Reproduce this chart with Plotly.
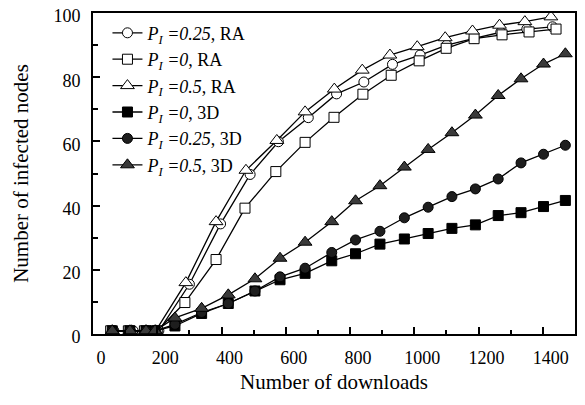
import plotly.graph_objects as go

# ---- data ----
x_ra_c = [65, 125, 170, 205, 300, 397, 489, 577, 670, 758, 843, 932, 1018, 1101, 1186, 1269, 1350, 1430]
y_ra_c = [1, 1, 1, 1, 15.5, 34.3, 49.7, 59.9, 67.4, 74.8, 78.5, 84.0, 86.9, 90.0, 92.1, 94.0, 95.0, 95.7]

x_ra_s = [55, 110, 160, 200, 286, 383, 473, 569, 660, 750, 840, 928, 1015, 1099, 1186, 1273, 1357, 1441]
y_ra_s = [1, 1, 1, 1, 9.8, 23.2, 39.2, 50.6, 59.7, 67.5, 74.7, 80.6, 85.1, 89.0, 92.0, 93.2, 94.1, 95.0]

x_ra_t = [60, 120, 165, 195, 289, 383, 476, 572, 660, 751, 838, 924, 1009, 1096, 1181, 1265, 1344, 1425]
y_ra_t = [1, 1, 1, 1, 16.0, 35.0, 51.0, 60.3, 69.2, 76.3, 82.2, 86.9, 89.5, 92.3, 94.4, 96.2, 97.3, 98.8]

x_3d = [60, 115, 165, 193, 255, 338, 421, 504, 582, 660, 743, 817, 893, 969, 1043, 1117, 1190, 1261, 1332, 1402, 1470]
y_3d_s = [1, 1, 1, 1, 2.5, 6.4, 9.5, 13.4, 16.9, 18.9, 22.8, 25.0, 28.0, 29.6, 31.3, 32.9, 34.0, 36.9, 37.8, 39.7, 41.6]
y_3d_c = [1, 1, 1, 1, 3.0, 6.7, 9.5, 13.4, 17.8, 20.5, 25.4, 29.3, 32.0, 36.2, 39.5, 42.8, 45.2, 48.3, 53.3, 56.0, 58.8]
y_3d_t = [1, 1, 1, 1, 5.0, 8.0, 12.2, 17.2, 23.6, 28.6, 35.0, 41.5, 46.2, 52.0, 57.5, 62.7, 68.2, 74.3, 79.5, 84.1, 87.3]

x_ticks = [0, 200, 400, 600, 800, 1000, 1200, 1400]
y_ticks = [0, 20, 40, 60, 80, 100]

names = [
    "<i>P</i><sub><i>I</i></sub><i> =0.25</i>, RA",
    "<i>P</i><sub><i>I</i></sub><i> =0</i>, RA",
    "<i>P</i><sub><i>I</i></sub><i> =0.5</i>, RA",
    "<i>P</i><sub><i>I</i></sub><i> =0</i>, 3D",
    "<i>P</i><sub><i>I</i></sub><i> =0.25</i>, 3D",
    "<i>P</i><sub><i>I</i></sub><i> =0.5</i>, 3D",
]

FONT = "Liberation Serif, Times New Roman, serif"

fig = go.Figure()

def add(x, y, name, symbol, fill, size):
    fig.add_trace(go.Scatter(
        x=x, y=y, name=name, mode="lines+markers",
        line=dict(color="black", width=1.3),
        marker=dict(symbol=symbol, size=size, color=fill,
                    line=dict(color="black", width=1)),
    ))

add(x_ra_c, y_ra_c, names[0], "circle", "white", 10)
add(x_ra_s, y_ra_s, names[1], "square", "white", 10)
add(x_ra_t, y_ra_t, names[2], "triangle-up", "white", 12)
add(x_3d, y_3d_s, names[3], "square", "black", 10)
add(x_3d, y_3d_c, names[4], "circle", "#1e1e1e", 10)
add(x_3d, y_3d_t, names[5], "triangle-up", "#3a3a3a", 12)

fig.update_layout(
    width=577, height=397,
    margin=dict(l=85, r=10, t=5, b=71),
    paper_bgcolor="white", plot_bgcolor="white",
    font=dict(family=FONT, color="black", size=18),
    showlegend=True,
    legend=dict(x=0.03, y=0.995, xanchor="left", yanchor="top",
                bgcolor="rgba(0,0,0,0)", font=dict(size=18, family=FONT),
                tracegroupgap=0, itemwidth=30),
    xaxis=dict(
        range=[0, 1500], tickvals=x_ticks, ticktext=[str(v) for v in x_ticks],
        ticks="inside", ticklen=7, tickwidth=2, tickcolor="black",
        minor=dict(dtick=100, tick0=0, ticks="inside", ticklen=4, tickwidth=2, tickcolor="black"),
        showline=True, linewidth=2, linecolor="black", mirror=True,
        showgrid=False, zeroline=False, automargin=False,
        ticklabelshift=8, ticklabelstandoff=6, ticklabeloverflow="allow",
        title=dict(text="Number of downloads", font=dict(size=21, family=FONT), standoff=8),
        tickfont=dict(size=18, family=FONT),
    ),
    yaxis=dict(
        range=[0, 100], tickvals=y_ticks,
        ticks="inside", ticklen=7, tickwidth=2, tickcolor="black",
        minor=dict(dtick=10, tick0=0, ticks="inside", ticklen=5, tickwidth=2, tickcolor="black"),
        showline=True, linewidth=2, linecolor="black", mirror=True,
        showgrid=False, zeroline=False, automargin=False,
        ticklabelstandoff=7, ticklabelshift=3, ticklabeloverflow="allow",
        title=dict(text="Number of infected nodes", font=dict(size=21, family=FONT), standoff=19),
        tickfont=dict(size=18, family=FONT),
    ),
)

fig.write_html("out.html")
